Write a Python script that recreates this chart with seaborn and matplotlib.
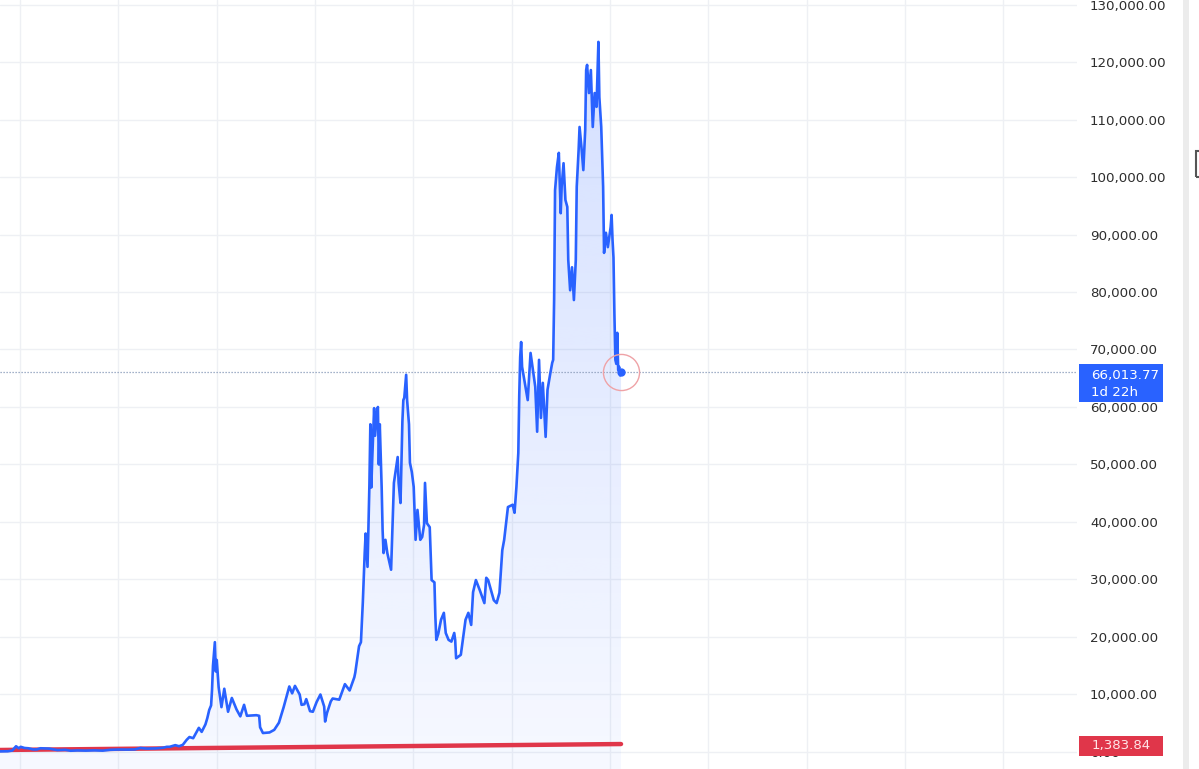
import numpy as np
import pandas as pd
import matplotlib
matplotlib.use("Agg")
import matplotlib.pyplot as plt
import matplotlib.dates as mdates
from matplotlib.colors import to_rgb
from matplotlib.patches import Rectangle, Circle
from matplotlib.ticker import FuncFormatter, MultipleLocator
import seaborn as sns

# --- data (weekly-ish closes) ---
price_dates = [
    "2013-08-05", "2013-10-01", "2013-11-04", "2013-11-25", "2013-12-02", "2013-12-23",
    "2014-01-06", "2014-02-03", "2014-03-03", "2014-04-07", "2014-05-05", "2014-06-02",
    "2014-07-07", "2014-08-04", "2014-09-01", "2014-10-06", "2014-11-03", "2014-12-01",
    "2015-01-12", "2015-02-02", "2015-03-02", "2015-05-04", "2015-07-06", "2015-09-07",
    "2015-11-02", "2016-01-04", "2016-03-07", "2016-05-02", "2016-06-13", "2016-08-01",
    "2016-10-03", "2016-11-28", "2016-12-26",
    "2017-01-16", "2017-02-27", "2017-03-27", "2017-04-24", "2017-05-22", "2017-06-12",
    "2017-07-10", "2017-08-21", "2017-09-11", "2017-10-09", "2017-10-23", "2017-11-06",
    "2017-11-20", "2017-11-27", "2017-12-04", "2017-12-18", "2017-12-25",
    "2018-01-01", "2018-01-15", "2018-02-05", "2018-02-26", "2018-03-26", "2018-04-23",
    "2018-05-28", "2018-06-25", "2018-07-23", "2018-08-13", "2018-10-22", "2018-11-12",
    "2018-11-19", "2018-12-10",
    "2019-01-28", "2019-03-04", "2019-04-08", "2019-05-13", "2019-06-24", "2019-07-15",
    "2019-08-05", "2019-09-09", "2019-09-23", "2019-10-14", "2019-10-28", "2019-11-25",
    "2019-12-16",
    "2020-01-13", "2020-02-10", "2020-03-09", "2020-03-16", "2020-03-30", "2020-04-27",
    "2020-05-11", "2020-06-29", "2020-08-10", "2020-09-14", "2020-10-19", "2020-10-26",
    "2020-11-23", "2020-12-07", "2020-12-21",
    "2021-01-04", "2021-01-11", "2021-01-25", "2021-02-08", "2021-02-15", "2021-02-22",
    "2021-03-01", "2021-03-15", "2021-03-22", "2021-04-05", "2021-04-12", "2021-04-19",
    "2021-04-26", "2021-05-10", "2021-05-17", "2021-05-24", "2021-06-07", "2021-06-21",
    "2021-07-19", "2021-08-09", "2021-08-23", "2021-09-06", "2021-09-13", "2021-09-27",
    "2021-10-11", "2021-10-18", "2021-10-25", "2021-11-08", "2021-11-15", "2021-11-29",
    "2021-12-06", "2021-12-20",
    "2022-01-03", "2022-01-17", "2022-01-31", "2022-02-21", "2022-03-07", "2022-03-21",
    "2022-03-28", "2022-04-11", "2022-05-02", "2022-05-16", "2022-06-06", "2022-06-13",
    "2022-06-20", "2022-07-04", "2022-07-25", "2022-08-15", "2022-08-29", "2022-09-19",
    "2022-10-10", "2022-10-31", "2022-11-07", "2022-11-14", "2022-12-19",
    "2023-01-23", "2023-02-13", "2023-03-06", "2023-03-20", "2023-04-10", "2023-05-08",
    "2023-06-12", "2023-06-26", "2023-07-10", "2023-08-21", "2023-09-11", "2023-10-02",
    "2023-10-23", "2023-11-06", "2023-12-04",
    "2024-01-08", "2024-01-22", "2024-02-05", "2024-02-19", "2024-02-26", "2024-03-04",
    "2024-03-11", "2024-03-18", "2024-04-29", "2024-05-20", "2024-06-24", "2024-07-08",
    "2024-07-22", "2024-08-05", "2024-08-19", "2024-09-02", "2024-09-09", "2024-09-23",
    "2024-10-14", "2024-10-28", "2024-11-04", "2024-11-11", "2024-11-18", "2024-12-02",
    "2024-12-16", "2024-12-30",
    "2025-01-06", "2025-01-20", "2025-02-03", "2025-02-17", "2025-02-24", "2025-03-10",
    "2025-03-24", "2025-04-07", "2025-04-21", "2025-04-28", "2025-05-12", "2025-05-19",
    "2025-06-02", "2025-06-16", "2025-06-30", "2025-07-07", "2025-07-14", "2025-07-28",
    "2025-08-11", "2025-08-25", "2025-09-08", "2025-09-22", "2025-10-06", "2025-10-13",
    "2025-10-27", "2025-11-10", "2025-11-17", "2025-12-01", "2025-12-15",
    "2026-01-05", "2026-01-12", "2026-01-19", "2026-01-26", "2026-02-02", "2026-02-09",
    "2026-02-16", "2026-02-23", "2026-03-02", "2026-03-09", "2026-03-16", "2026-03-23",
]
price_values = [
    105, 125, 250, 800, 1000, 650,
    900, 700, 650, 450, 440, 650,
    620, 590, 480, 330, 350, 380,
    220, 240, 270, 240, 280, 235,
    380, 430, 415, 450, 700, 590,
    620, 740, 900,
    900, 1190, 1000, 1250, 2100, 2600,
    2400, 4200, 3500, 4800, 5900, 7300,
    8100, 10800, 15000, 19100, 14000,
    16000, 11300, 7800, 11000, 7000, 9400,
    7400, 6200, 8200, 6300, 6400, 6300,
    4300, 3300,
    3400, 3850, 5100, 7800, 11400, 10200,
    11500, 10000, 8200, 8300, 9200, 7100,
    7000,
    8700, 10000, 7900, 5300, 6800, 8800,
    9300, 9100, 11800, 10700, 13000, 13800,
    18400, 19100, 26000,
    34600, 38000, 32200, 46500, 57000, 46000,
    51000, 59800, 55000, 59000, 60000, 50000,
    57000, 46000, 38600, 34600, 36900, 34600,
    31700, 46800, 49000, 51300, 46800, 43300,
    57500, 61200, 61600, 65600, 61200, 57000,
    50300, 48700,
    46100, 36900, 42100, 36900, 37400, 39500,
    46800, 39800, 39100, 29900, 29500, 23500,
    19500, 20500, 23000, 24200, 20700, 19500,
    19200, 20700, 19500, 16300, 16900,
    23000, 24200, 22100, 27800, 29900, 28200,
    25900, 30300, 29900, 26400, 25900, 27700,
    35100, 36900, 42600,
    43000, 41600, 46100, 52000, 62000, 68700,
    71300, 67000, 61200, 69400, 63500, 55700,
    68200, 58100, 64200, 57700, 54800, 63000,
    65900, 67700, 68200, 78600, 97700, 101700,
    104200, 93700,
    98300, 102400, 96000, 94800, 85600, 80300,
    84300, 78600, 85600, 98300, 104700, 108700,
    105200, 101200, 108200, 118600, 119500, 114600,
    118600, 108700, 114600, 112200, 123500, 113900,
    108700, 98300, 86800, 90300, 87800,
    91300, 93400, 89000, 86000, 76000, 68200,
    67500, 72900, 66400, 67000, 65500, 66013.77,
]

trend_dates = ["2013-08-05", "2026-03-23"]
trend_values = [350, 1383.84]

last_price = 66013.77
last_label = "66,013.77"
countdown = "1d 22h"
trend_label = "1,383.84"
y_ticks = list(range(0, 130001, 10000))

BLUE = "#2962FF"
RED = "#E0364A"

df = pd.DataFrame({"date": pd.to_datetime(price_dates), "price": price_values})
trend = pd.DataFrame({"date": pd.to_datetime(trend_dates), "price": trend_values})

sns.set_theme(style="white")
plt.rcParams['font.family'] = ['DejaVu Sans']

W, H = 1199, 769
fig = plt.figure(figsize=(W / 100, H / 100), dpi=100)
fig.patch.set_facecolor("white")
ax = fig.add_axes([0, 0, 1077 / W, 1])

x0 = mdates.date2num(pd.Timestamp("2013-08-05"))
x1 = mdates.date2num(pd.Timestamp("2035-07-01"))
y0, y1 = -2957, 130783

# gradient area under the price line
xs = mdates.date2num(df["date"])
fill = ax.fill_between(xs, df["price"], y0, color="none", linewidth=0)
grad = np.zeros((256, 1, 4))
grad[..., :3] = to_rgb(BLUE)
grad[..., 3] = np.linspace(0.20, 0.04, 256).reshape(-1, 1)
im = ax.imshow(grad, aspect="auto", extent=[xs[0], xs[-1], y0, max(price_values)],
               origin="upper", zorder=1, interpolation="bicubic")
im.set_clip_path(fill.get_paths()[0], transform=ax.transData)

sns.lineplot(data=trend, x="date", y="price", ax=ax, color=RED, linewidth=3.2,
             solid_capstyle="round", zorder=3)
sns.lineplot(data=df, x="date", y="price", ax=ax, color=BLUE, linewidth=1.9, zorder=4)

ax.axhline(last_price, color="#8799B8", linestyle=(0, (1, 1.4)), linewidth=0.9, zorder=2)

# last point marker
ax.plot(xs[-1], last_price, "o", color=BLUE, markersize=5, zorder=5)
ax.plot(xs[-1], last_price, "o", markersize=26, markerfacecolor="none",
        markeredgecolor="#EFA2A6", markeredgewidth=1.0, zorder=5)

ax.set_xlim(x0, x1)
ax.set_ylim(y0, y1)
ax.xaxis.set_major_locator(mdates.YearLocator(2))
ax.set_yticks(y_ticks)
ax.yaxis.set_major_formatter(FuncFormatter(lambda v, p: f"{v:,.2f}"))
ax.yaxis.tick_right()
ax.tick_params(axis="y", length=0, pad=9.4, labelsize=9.6, labelcolor="#2E2E2E")
ax.tick_params(axis="x", length=0, labelbottom=False)
ax.grid(True, color="#EEF0F4", linewidth=1.0)
for s in ax.spines.values():
    s.set_visible(False)
ax.set_xlabel("")
ax.set_ylabel("")
ax.set_facecolor("white")


def fig_rect(x, y, w, h, **kw):
    # pixel box (top-left origin) -> figure coords
    r = Rectangle((x / W, 1 - (y + h) / H), w / W, h / H, transform=fig.transFigure, **kw)
    fig.add_artist(r)


# price labels on the scale
fig_rect(1079, 364, 84, 38, facecolor=BLUE, edgecolor="none", zorder=10)
fig.text(1091 / W, 1 - 375 / H, last_label, color="white", fontsize=9.6, va="center",
         ha="left", zorder=11)
fig.text(1091 / W, 1 - 392 / H, countdown, color="white", fontsize=9.6, va="center",
         ha="left", zorder=11)
fig_rect(1079, 736, 84, 20, facecolor=RED, edgecolor="none", zorder=10)
fig.text(1092 / W, 1 - 746 / H, trend_label, color="#FFE4E7", fontsize=9.6, va="center",
         ha="left", zorder=11)

# right toolbar edge
fig_rect(1183, 0, 6, H, facecolor="#ECECEC", edgecolor="none", zorder=10)
fig_rect(1196, 151, 8, 26, facecolor="none", edgecolor="#555555", linewidth=1.5, zorder=10)

fig.savefig("out.png", dpi=100, facecolor="white")
